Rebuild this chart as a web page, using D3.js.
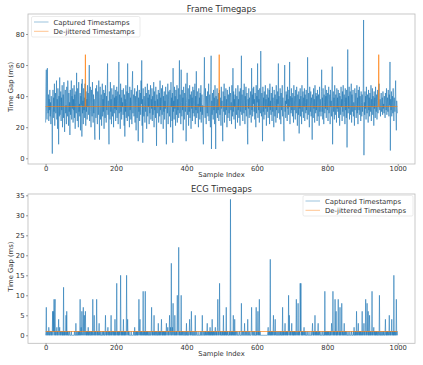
<!DOCTYPE html>
<html lang="en">
    <head>
        <meta charset="utf-8">
        <script type="text/javascript" src="https://d3js.org/d3.v7.min.js"></script>
        <style type="text/css">
          body { margin: 0; background: white; }
          text { font-family: "DejaVu Sans", sans-serif; fill: #333; }
        </style>
    </head>
    <body>
      <script type="text/javascript">
        // frame time gaps (ms), one value per sample
        var frameCaptured = [
          23,46,57,30,25,58,35,29,41,24,38,31,44,27,36,22,40,33,28,3,
          35,44,26,39,30,48,21,37,42,29,33,50,25,38,19,45,31,9,40,27,
          52,28,36,43,24,39,31,47,20,35,41,26,49,30,17,38,44,29,34,22,
          46,33,27,50,39,21,42,30,36,15,44,28,37,50,25,40,32,45,23,38,
          31,47,26,41,19,36,43,29,55,33,24,45,38,20,49,30,35,27,42,18,
          40,34,48,14,51,29,37,22,45,31,39,26,48,36,21,43,30,38,25,47,
          33,42,28,35,60,24,39,46,30,20,44,33,27,49,36,23,41,29,38,17,
          12,37,45,26,40,47,31,22,43,35,28,50,34,12,39,46,25,33,41,21,
          36,48,27,38,30,44,19,42,33,26,47,35,23,40,31,45,61,28,37,24,
          9,43,34,25,49,30,38,22,45,33,27,41,36,20,47,29,39,32,44,24,
          40,31,46,26,37,43,22,35,62,29,41,34,19,48,30,39,25,44,33,36,
          28,45,32,21,41,14,38,30,47,26,36,43,24,61,33,27,42,35,20,46,
          31,39,25,44,34,22,48,56,29,37,41,27,35,45,23,40,32,18,43,36,
          26,47,33,11,39,30,44,24,36,42,28,50,35,63,21,38,10,45,31,27,
          40,34,23,46,30,37,42,19,35,48,27,39,33,44,22,41,29,36,47,25,
          38,32,45,24,40,28,35,49,20,43,31,37,26,46,34,8,41,29,38,33,
          44,23,36,42,27,50,31,39,22,45,33,28,47,35,19,40,30,43,25,37,
          32,46,26,9,41,35,29,48,22,38,43,31,27,44,36,20,49,33,39,24,
          42,10,58,30,37,25,46,32,40,21,44,34,28,47,23,38,31,45,26,35,
          63,29,41,34,22,57,36,27,44,31,39,18,46,33,25,42,37,30,48,11,
          36,40,55,28,33,45,21,38,30,47,26,41,35,19,43,32,39,24,46,29,
          37,44,27,34,48,22,40,31,56,26,38,43,29,35,20,45,33,39,25,42,
          30,47,23,36,41,28,34,17,9,39,44,65,31,26,45,33,22,40,35,29,
          43,27,38,48,24,35,41,30,20,46,66,6,37,28,42,33,25,44,31,39,
          22,47,34,6,40,29,36,45,26,38,31,42,24,35,44,28,39,33,21,46,
          32,37,27,11,43,35,30,48,23,40,34,28,45,31,38,20,44,36,26,41,
          33,29,46,24,39,42,31,36,22,47,35,27,58,30,43,25,38,33,41,19,
          45,32,28,40,36,23,47,31,38,26,43,34,21,45,30,37,66,28,41,35,
          24,44,33,29,48,37,22,40,31,46,27,36,42,19,9,38,32,45,26,39,
          34,28,43,36,23,58,31,41,27,45,35,46,30,38,25,42,33,20,47,29,
          40,36,61,26,44,31,38,23,45,34,29,69,37,27,42,33,11,46,30,39,
          25,43,35,28,47,32,38,21,41,36,30,45,26,39,33,44,22,48,31,37,
          28,42,35,24,46,30,39,33,20,44,37,27,41,34,23,47,31,38,26,43,
          35,61,29,40,33,25,45,38,22,42,31,36,47,27,39,34,21,11,44,60,
          30,37,26,43,35,41,24,46,32,38,28,44,33,62,22,40,36,29,45,31,
          39,27,42,34,23,47,31,37,40,25,44,33,29,46,36,21,41,35,28,43,
          16,38,32,45,27,40,34,22,47,30,37,43,26,39,33,45,24,41,36,29,
          44,31,38,25,65,35,28,42,33,20,46,37,30,43,27,39,34,12,41,36,
          26,45,32,38,23,47,35,29,42,31,40,24,44,36,27,41,33,21,46,30,
          38,34,27,43,57,30,39,25,45,33,22,41,36,29,47,32,40,26,44,35,
          31,42,24,38,46,29,35,41,22,44,33,37,27,40,59,9,36,43,30,39,
          25,47,34,28,41,36,23,45,32,39,30,44,26,37,42,21,40,35,28,46,
          33,38,24,43,30,47,35,27,41,36,22,45,31,39,26,44,7,34,70,29,
          40,32,46,25,37,43,28,35,48,23,41,30,38,44,27,36,33,21,45,31,
          37,42,26,34,47,29,39,22,44,35,31,46,28,40,33,24,43,36,27,41,
          30,38,45,89,2,36,28,43,32,40,25,46,34,29,41,37,23,44,31,39,
          27,42,35,30,47,24,38,33,45,28,40,36,21,43,32,39,26,46,34,30,
          41,25,37,44,29,35,40,48,33,31,38,27,36,42,30,34,39,28,43,32,
          35,29,40,33,26,42,37,31,45,28,36,39,30,44,32,27,41,34,62,5,
          38,31,43,27,36,40,29,45,33,24,39,35,30,42,50,28,18,37,33,29
        ];
        // de-jittered frame gaps: sample index / value pairs
        var frameDejitIdx = [0, 112, 113, 114, 492, 493, 494, 945, 946, 947, 999];
        var frameDejitVal = [33.3, 33.3, 66.7, 33.3, 33.3, 66.7, 33.3, 33.3, 66.7, 33.3, 33.3];

        // ecg time gaps (ms), one value per sample
        var ecgCaptured = [
          0,1,7,0,1,0,1,1,0,2,1,0,1,0,1,1,0,1,0,1,6,0,6,1,9,0,6,9,0,1,0,1,2,0,1,0,1,4,0,1,
          2,0,1,0,1,1,0,1,0,1,0,12,0,1,0,1,0,1,5,0,6,0,1,0,1,0,0,0,1,0,0,0,0,1,0,0,0,0,0,0,
          0,0,1,0,0,0,3,0,0,1,0,0,1,0,1,0,1,0,9,0,1,2,0,6,1,0,1,7,0,1,5,0,1,6,0,1,0,1,0,1,
          0,2,0,1,0,1,0,0,1,0,1,0,1,0,9,1,0,1,5,0,1,0,1,0,1,9,0,1,0,1,0,1,3,0,1,0,0,1,0,0,
          0,1,0,0,1,0,1,0,0,1,5,0,1,0,1,0,1,2,0,1,0,1,0,1,0,1,5,0,1,0,1,1,0,1,0,1,0,4,0,1,
          0,1,13,0,1,0,1,0,1,0,1,0,1,15,0,1,0,1,0,1,0,4,0,1,0,1,0,1,0,1,15,0,1,4,0,1,0,1,0,0,
          0,0,0,1,0,0,0,0,0,0,1,0,0,2,0,0,1,0,1,0,1,0,1,0,1,9,0,1,4,0,1,0,1,0,1,0,1,11,0,1,
          0,1,0,11,0,1,0,1,0,1,0,1,0,0,1,0,0,1,0,0,1,7,0,1,0,1,0,1,5,0,1,0,1,0,0,1,0,1,0,0,
          3,0,1,0,1,0,1,0,1,4,0,1,0,1,0,1,0,1,0,1,0,1,0,3,1,0,1,2,0,1,0,1,5,0,1,2,0,18,0,1,
          2,0,8,1,0,1,0,5,1,0,1,0,1,0,10,1,0,1,22,0,1,0,1,0,1,10,0,1,0,1,0,0,1,0,0,1,0,0,1,0,
          3,0,1,0,0,1,0,0,1,4,0,1,0,1,6,0,1,0,0,1,0,0,1,0,0,5,0,0,1,0,0,0,0,1,0,0,0,0,0,1,
          0,0,1,0,0,5,0,0,0,1,0,0,1,0,1,0,1,0,1,3,0,1,0,1,0,1,0,2,0,1,0,1,0,4,0,1,0,1,0,1,
          0,1,2,0,1,0,1,0,2,9,0,1,0,1,13,0,1,0,1,0,0,1,0,1,0,5,0,1,0,1,0,1,0,7,0,1,0,1,0,0,
          0,1,0,1,0,34,0,1,0,1,0,1,0,5,0,1,0,4,0,1,0,0,1,0,0,0,1,0,0,0,0,1,0,0,0,0,8,0,0,1,
          0,0,1,0,0,3,0,0,1,0,0,1,0,0,4,0,0,1,0,0,1,0,0,0,1,7,0,0,1,0,0,1,0,0,1,0,0,0,7,0,
          1,0,1,6,0,1,0,9,0,1,0,0,0,0,0,0,0,0,0,0,0,0,0,0,0,0,0,0,0,0,0,1,2,0,1,0,1,0,19,0,
          1,0,1,0,1,0,1,5,0,1,0,1,4,0,1,0,0,1,0,0,1,0,0,1,0,0,1,0,1,0,0,1,0,7,0,1,0,1,0,1,
          3,0,1,0,1,0,1,0,1,0,10,1,5,0,1,0,1,0,1,3,0,1,0,1,0,1,0,1,0,1,0,1,9,0,1,0,1,8,0,1,
          0,1,0,13,1,13,0,1,0,1,0,1,0,1,2,0,1,0,0,1,0,0,0,1,0,0,0,0,1,0,0,0,0,0,1,0,0,1,3,0,
          1,0,1,0,1,5,0,1,0,1,0,1,0,1,3,0,1,0,1,0,0,0,1,0,0,0,0,1,0,0,0,1,0,11,0,1,0,1,0,1,
          0,1,0,1,0,1,0,0,1,0,1,0,3,1,0,1,11,0,1,0,1,0,9,1,0,6,0,1,0,1,0,9,1,0,1,0,7,0,1,0,
          1,8,0,1,0,1,0,1,3,0,1,0,1,0,0,1,0,0,0,1,0,0,0,0,1,0,0,0,0,1,0,0,0,0,1,0,2,0,0,1,
          0,1,0,6,0,1,0,1,3,0,1,0,1,0,1,0,1,0,1,6,0,1,0,1,3,0,1,0,1,9,0,1,0,8,1,0,6,0,1,0,
          5,0,1,0,1,0,1,11,0,1,0,1,2,0,1,0,1,0,1,0,1,0,1,0,0,1,0,0,10,0,1,0,0,1,0,0,1,0,0,1,
          0,1,0,0,1,4,0,1,0,1,0,1,0,1,0,1,5,0,1,0,1,0,1,4,0,1,0,1,0,15,0,1,0,1,0,1,9,0,1,0
        ];
        // de-jittered ecg gaps: flat line
        var ecgDejitIdx = [0, 999];
        var ecgDejitVal = [0.95, 0.95];

        var xTicks = [0, 200, 400, 600, 800, 1000];
        var frameYTicks = [0, 20, 40, 60, 80];
        var ecgYTicks = [0, 5, 10, 15, 20, 25, 30, 35];
        var seriesNames = ["Captured Timestamps", "De-jittered Timestamps"];
        var colors = ["#1f77b4", "#ff7f0e"];

        var w = 423;
        var h = 365;
        var svg = d3.select("body").append("svg").attr("width", w).attr("height", h);

        // draws one subplot
        function drawPanel(p) {
          var x = d3.scaleLinear().domain([-50, 1049]).range([28, 415]);
          var y = d3.scaleLinear().domain(p.yDomain).range([p.bottom, p.top]);
          var g = svg.append("g");

          var line = d3.line()
                       .x(function(d) { return x(d[0]); })
                       .y(function(d) { return y(d[1]); });

          var captured = p.captured.map(function(v, i) { return [i, v]; });
          var dejit = p.dejitIdx.map(function(v, i) { return [v, p.dejitVal[i]]; });

          g.append("path")
           .datum(captured)
           .attr("d", line)
           .attr("fill", "none")
           .attr("stroke", colors[0])
           .attr("stroke-opacity", 0.85)
           .attr("stroke-width", 0.7);

          g.append("path")
           .datum(dejit)
           .attr("d", line)
           .attr("fill", "none")
           .attr("stroke", colors[1])
           .attr("stroke-opacity", 0.75)
           .attr("stroke-width", 0.9);

          // frame round the axes
          g.append("rect")
           .attr("x", 28).attr("y", p.top)
           .attr("width", 387).attr("height", p.bottom - p.top)
           .attr("fill", "none")
           .attr("stroke", "#bbb")
           .attr("stroke-width", 0.8);

          var xAxis = g.append("g")
                       .attr("transform", "translate(0," + p.bottom + ")")
                       .call(d3.axisBottom(x).tickValues(xTicks).tickFormat(d3.format("d"))
                               .tickSize(2).tickPadding(0));
          var yAxis = g.append("g")
                       .attr("transform", "translate(28,0)")
                       .call(d3.axisLeft(y).tickValues(p.yTicks).tickSize(2).tickPadding(1.5));
          [xAxis, yAxis].forEach(function(a) {
            a.select(".domain").remove();
            a.selectAll("line").attr("stroke", "#555").attr("stroke-width", 0.6);
            a.selectAll("text").style("font-size", "6.8px").attr("fill", "#333")
             .style("font-family", "DejaVu Sans");
          });

          // titles
          g.append("text")
           .attr("x", 221.5).attr("y", p.top - 2.5)
           .attr("text-anchor", "middle")
           .style("font-size", "8.4px")
           .text(p.title);
          g.append("text")
           .attr("x", 221.5).attr("y", p.bottom + 12.8)
           .attr("text-anchor", "middle")
           .style("font-size", "6.8px")
           .text("Sample Index");
          g.append("text")
           .attr("transform", "translate(12.5," + ((p.top + p.bottom) / 2 - 2) + ") rotate(-90)")
           .attr("text-anchor", "middle")
           .style("font-size", "6.8px")
           .text("Time Gap (ms)");

          // legend
          var lg = g.append("g").attr("transform", "translate(" + p.legend[0] + "," + p.legend[1] + ")");
          lg.append("rect")
            .attr("width", p.legend[2]).attr("height", 20.5)
            .attr("rx", 1.5)
            .attr("fill", "white").attr("fill-opacity", 0.8)
            .attr("stroke", "#ddd").attr("stroke-width", 0.6);
          seriesNames.forEach(function(name, i) {
            lg.append("line")
              .attr("x1", 2.5).attr("x2", 17)
              .attr("y1", 5.5 + i * 9.3).attr("y2", 5.5 + i * 9.3)
              .attr("stroke", colors[i]).attr("stroke-opacity", 0.5).attr("stroke-width", 0.9);
            lg.append("text")
              .attr("x", 22).attr("y", 8 + i * 9.3)
              .style("font-size", "6.9px")
              .text(name);
          });
        }

        drawPanel({
          title: "Frame Timegaps", top: 14, bottom: 164,
          yDomain: [-3.67, 92.86], yTicks: frameYTicks,
          captured: frameCaptured, dejitIdx: frameDejitIdx, dejitVal: frameDejitVal,
          legend: [31.5, 16.5, 108.5]
        });
        drawPanel({
          title: "ECG Timegaps", top: 194, bottom: 343.3,
          yDomain: [-2, 35.33], yTicks: ecgYTicks,
          captured: ecgCaptured, dejitIdx: ecgDejitIdx, dejitVal: ecgDejitVal,
          legend: [303, 195.5, 110]
        });
      </script>
    </body>
</html>
